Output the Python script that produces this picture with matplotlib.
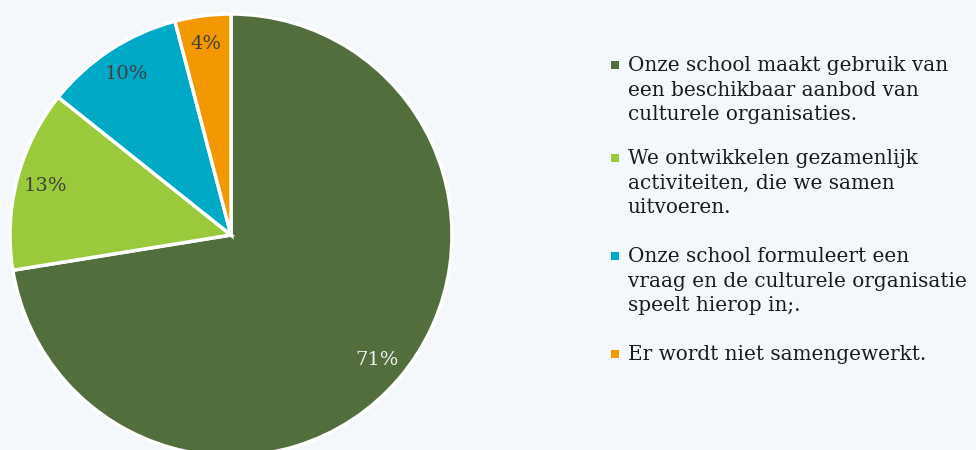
import numpy as np
import matplotlib as mpl
mpl.use("Agg")
import matplotlib.pyplot as plt
from matplotlib import patches

mpl.rcParams['font.family'] = ['DejaVu Serif']

labels = [
    'Onze school maakt gebruik van\neen beschikbaar aanbod van\nculturele organisaties.',
    'We ontwikkelen gezamenlijk\nactiviteiten, die we samen\nuitvoeren.',
    'Onze school formuleert een\nvraag en de culturele organisatie\nspeelt hierop in;.',
    'Er wordt niet samengewerkt.',
]
values = [71, 13, 10, 4]
colors = ['#536E3D', '#9ACA3C', '#00A9C6', '#F39800']
pct_colors = ['#F0F0F0', '#404040', '#404040', '#404040']

W, H = 976, 450
fig = plt.figure(figsize=(9.76, 4.5), dpi=100, facecolor='#F4F8FB')
ax = fig.add_axes([0, 0, 1, 1])

wedges, texts = ax.pie(values, colors=colors, startangle=90, counterclock=False,
                       center=(231, H - 235), radius=221, frame=True,
                       labels=['{}%'.format(v) for v in values], labeldistance=0.87,
                       wedgeprops=dict(edgecolor='white', linewidth=2.5),
                       textprops=dict(fontsize=14))
for t, c in zip(texts, pct_colors):
    t.set_color(c)
    t.set_ha('center')
    t.set_va('center')
ax.set_xlim(0, W)
ax.set_ylim(0, H)
ax.set_aspect('equal')
ax.axis('off')

# legend, drawn by hand: y is the centre of the first line
tops = [66, 159, 257, 355]
for lab, col, y in zip(labels, colors, tops):
    ax.add_patch(patches.Rectangle((611, H - y - 3), 8, 8, facecolor=col,
                                   edgecolor='none'))
    ax.text(628, H - y + 10, lab, fontsize=14.4, color='#1A1A1A', ha='left',
            va='top', linespacing=1.38)

plt.savefig('out.png', dpi=100, facecolor=fig.get_facecolor())
